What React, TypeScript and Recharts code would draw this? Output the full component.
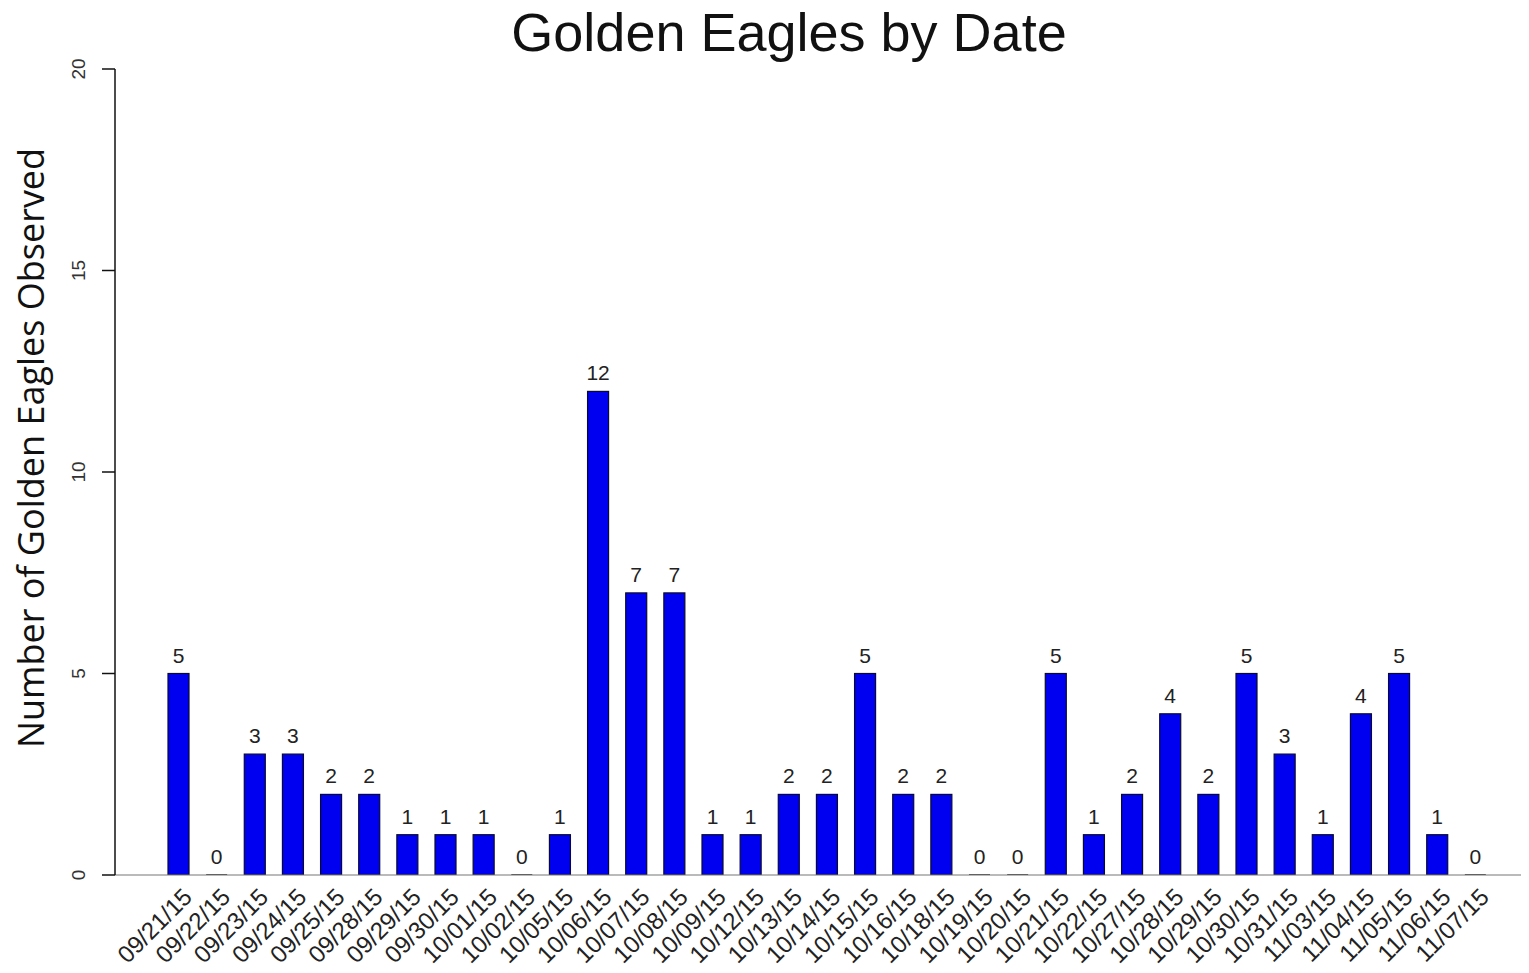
import React from "react";
import {
  Bar,
  BarChart,
  LabelList,
  ReferenceLine,
  XAxis,
  YAxis,
} from "recharts";

const dates = [
  "09/21/15", "09/22/15", "09/23/15", "09/24/15", "09/25/15", "09/28/15",
  "09/29/15", "09/30/15", "10/01/15", "10/02/15", "10/05/15", "10/06/15",
  "10/07/15", "10/08/15", "10/09/15", "10/12/15", "10/13/15", "10/14/15",
  "10/15/15", "10/16/15", "10/18/15", "10/19/15", "10/20/15", "10/21/15",
  "10/22/15", "10/27/15", "10/28/15", "10/29/15", "10/30/15", "10/31/15",
  "11/03/15", "11/04/15", "11/05/15", "11/06/15", "11/07/15",
];

const eagleCounts = [
  5, 0, 3, 3, 2, 2, 1, 1, 1, 0, 1, 12, 7, 7, 1, 1, 2, 2, 5, 2, 2, 0, 0, 5,
  1, 2, 4, 2, 5, 3, 1, 4, 5, 1, 0,
];

const yTicks = [0, 5, 10, 15, 20];

const chartData = dates.map((date, i) => ({ date, count: eagleCounts[i] }));

const labelFont = "'Liberation Sans', Arial, sans-serif";
const titleFont = "'Open Sans', 'Noto Sans', sans-serif";

// bars outlined in black; empty days still get a flat stroke on the baseline
function OutlinedBar(props: any) {
  const { x, y, width, height } = props;
  if (!height) {
    return <line x1={x} x2={x + width} y1={y} y2={y} stroke="#111" strokeWidth={1.5} />;
  }
  return (
    <rect x={x} y={y} width={width} height={height} fill="#0000f0" stroke="#0a0a30" strokeWidth={1.2} />
  );
}

function DateTick(props: any) {
  const { x, y, payload } = props;
  const ax = x + 3;
  const ay = y + 3;
  return (
    <text
      x={ax}
      y={ay}
      transform={`rotate(-45, ${ax}, ${ay})`}
      textAnchor="end"
      dominantBaseline="hanging"
      fontFamily={labelFont}
      fontSize={24}
      fill="#222"
    >
      {payload.value}
    </text>
  );
}

function CountTick(props: any) {
  const { x, y, payload } = props;
  const tx = x - 15;
  return (
    <text
      x={tx}
      y={y}
      transform={`rotate(-90, ${tx}, ${y})`}
      textAnchor="middle"
      fontFamily={labelFont}
      fontSize={19}
      fill="#333"
    >
      {payload.value}
    </text>
  );
}

function AxisTitle() {
  return (
    <text
      x={44}
      y={448}
      transform="rotate(-90, 44, 448)"
      textAnchor="middle"
      fontFamily={titleFont}
      fontSize={36}
      fill="#111"
    >
      Number of Golden Eagles Observed
    </text>
  );
}

export default function App() {
  return (
    <div style={{ position: "relative", margin: -8, width: 1529, height: 973, background: "#fff" }}>
      <BarChart
        width={1529}
        height={973}
        data={chartData}
        margin={{ top: 69, right: 0, bottom: 0, left: 0 }}
        barCategoryGap={0}
      >
        <XAxis
          dataKey="date"
          interval={0}
          axisLine={false}
          tickLine={false}
          height={98}
          padding={{ left: 44, right: 35 }}
          tick={<DateTick />}
        />
        <YAxis
          width={115}
          domain={[0, 20]}
          ticks={yTicks}
          allowDataOverflow
          axisLine={{ stroke: "#111", strokeWidth: 1.5 }}
          tickLine={{ stroke: "#111", strokeWidth: 1.5 }}
          tickSize={13}
          tick={<CountTick />}
          label={{ content: () => <AxisTitle /> }}
        />
        <ReferenceLine y={0} stroke="#777" strokeWidth={1.2} />
        <Bar dataKey="count" barSize={21} shape={<OutlinedBar />} isAnimationActive={false}>
          <LabelList
            dataKey="count"
            position="top"
            offset={11}
            fontFamily={labelFont}
            fontSize={21}
            fill="#222"
          />
        </Bar>
      </BarChart>
      <div
        style={{
          position: "absolute",
          left: 789,
          top: 5,
          transform: "translateX(-50%)",
          whiteSpace: "nowrap",
          fontFamily: labelFont,
          fontSize: 54,
          lineHeight: "54px",
          color: "#111",
        }}
      >
        Golden Eagles by Date
      </div>
    </div>
  );
}
